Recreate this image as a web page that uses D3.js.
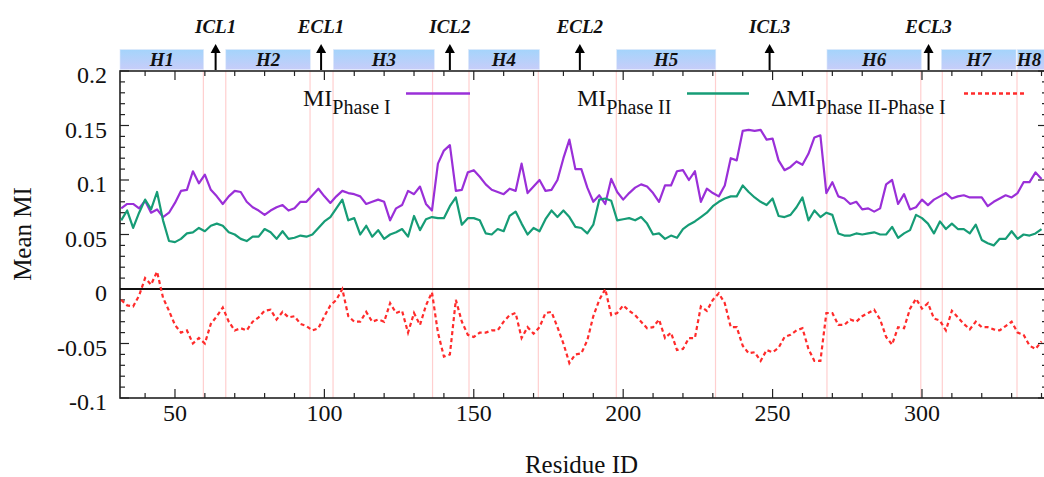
<!DOCTYPE html>
<html>
<head>
<meta charset="utf-8">
<script src="https://cdn.jsdelivr.net/npm/d3@7"></script>
<style>
  html, body { margin: 0; padding: 0; background: #fff; }
  svg { display: block; }
  text { font-family: "Liberation Serif", "Times New Roman", serif; fill: #111; }
</style>
</head>
<body>
<svg id="chart" width="1044" height="477"></svg>
<script>
// ---------------- DATA ----------------
const residues = [32,34,36,38,40,42,44,46,48,50,52,54,56,58,60,62,64,66,68,70,72,74,76,78,80,82,84,86,88,90,92,94,96,98,100,102,104,106,108,110,112,114,116,118,120,122,124,126,128,130,132,134,136,138,140,142,144,146,148,150,152,154,156,158,160,162,164,166,168,170,172,174,176,178,180,182,184,186,188,190,192,194,196,198,200,202,204,206,208,210,212,214,216,218,220,222,224,226,228,230,232,234,236,238,240,242,244,246,248,250,252,254,256,258,260,262,264,266,268,270,272,274,276,278,280,282,284,286,288,290,292,294,296,298,300,302,304,306,308,310,312,314,316,318,320,322,324,326,328,330,332,334,336,338,340];

const miPhaseI = [0.074,0.078,0.078,0.074,0.081,0.070,0.073,0.066,0.070,0.079,0.090,0.091,0.108,0.097,0.105,0.091,0.085,0.078,0.085,0.090,0.089,0.080,0.075,0.072,0.068,0.072,0.075,0.077,0.072,0.074,0.080,0.080,0.086,0.092,0.085,0.079,0.085,0.090,0.088,0.087,0.085,0.078,0.080,0.082,0.080,0.063,0.074,0.077,0.090,0.087,0.094,0.078,0.072,0.115,0.127,0.132,0.090,0.091,0.107,0.109,0.103,0.096,0.091,0.089,0.087,0.092,0.090,0.115,0.088,0.094,0.100,0.090,0.091,0.100,0.120,0.137,0.110,0.110,0.093,0.080,0.086,0.078,0.101,0.089,0.082,0.088,0.093,0.096,0.094,0.088,0.080,0.095,0.095,0.108,0.109,0.100,0.108,0.080,0.092,0.088,0.085,0.095,0.120,0.118,0.145,0.146,0.145,0.146,0.137,0.138,0.118,0.109,0.112,0.117,0.114,0.124,0.139,0.141,0.088,0.098,0.085,0.083,0.078,0.080,0.073,0.074,0.071,0.074,0.096,0.100,0.078,0.087,0.073,0.075,0.082,0.077,0.082,0.085,0.088,0.083,0.085,0.086,0.084,0.084,0.084,0.076,0.080,0.083,0.086,0.084,0.088,0.098,0.098,0.107,0.101];

const miPhaseII = [0.063,0.072,0.056,0.070,0.082,0.073,0.089,0.063,0.044,0.043,0.046,0.051,0.052,0.056,0.053,0.058,0.060,0.058,0.052,0.050,0.046,0.044,0.048,0.048,0.055,0.052,0.046,0.053,0.046,0.047,0.049,0.048,0.050,0.056,0.062,0.066,0.074,0.082,0.063,0.065,0.050,0.058,0.048,0.054,0.046,0.050,0.052,0.055,0.048,0.067,0.054,0.064,0.066,0.065,0.065,0.076,0.084,0.059,0.065,0.065,0.063,0.051,0.050,0.055,0.053,0.067,0.071,0.060,0.050,0.056,0.053,0.064,0.072,0.066,0.072,0.066,0.057,0.056,0.051,0.059,0.082,0.083,0.081,0.063,0.064,0.065,0.063,0.066,0.060,0.050,0.051,0.046,0.049,0.047,0.055,0.059,0.062,0.066,0.070,0.076,0.080,0.083,0.085,0.085,0.095,0.089,0.084,0.080,0.077,0.083,0.067,0.066,0.068,0.075,0.084,0.063,0.072,0.066,0.070,0.068,0.051,0.049,0.049,0.051,0.050,0.051,0.052,0.050,0.050,0.057,0.047,0.051,0.054,0.068,0.065,0.060,0.051,0.062,0.055,0.060,0.055,0.055,0.051,0.059,0.045,0.042,0.040,0.046,0.046,0.053,0.046,0.050,0.049,0.051,0.055];

const deltaMI = [-0.010,-0.015,-0.016,-0.006,0.010,0.004,0.016,-0.008,-0.020,-0.033,-0.040,-0.038,-0.050,-0.045,-0.050,-0.032,-0.025,-0.017,-0.030,-0.038,-0.036,-0.038,-0.030,-0.026,-0.020,-0.019,-0.028,-0.021,-0.026,-0.025,-0.032,-0.034,-0.038,-0.036,-0.025,-0.015,-0.010,0.000,-0.025,-0.030,-0.030,-0.021,-0.030,-0.028,-0.030,-0.013,-0.022,-0.020,-0.040,-0.022,-0.033,-0.015,-0.003,-0.040,-0.062,-0.060,-0.010,-0.030,-0.042,-0.044,-0.040,-0.040,-0.038,-0.038,-0.030,-0.024,-0.022,-0.045,-0.035,-0.041,-0.035,-0.022,-0.021,-0.035,-0.050,-0.068,-0.060,-0.059,-0.047,-0.025,-0.010,0.000,-0.024,-0.022,-0.015,-0.020,-0.024,-0.030,-0.036,-0.035,-0.028,-0.045,-0.040,-0.056,-0.055,-0.045,-0.045,-0.016,-0.020,-0.010,-0.004,-0.013,-0.035,-0.035,-0.052,-0.059,-0.058,-0.066,-0.056,-0.058,-0.054,-0.044,-0.042,-0.038,-0.036,-0.055,-0.066,-0.066,-0.022,-0.022,-0.033,-0.033,-0.028,-0.030,-0.025,-0.022,-0.019,-0.028,-0.044,-0.051,-0.035,-0.036,-0.018,-0.009,-0.018,-0.013,-0.027,-0.029,-0.038,-0.020,-0.026,-0.032,-0.037,-0.030,-0.035,-0.035,-0.037,-0.038,-0.034,-0.030,-0.040,-0.042,-0.052,-0.055,-0.048];

const helixNames = ["H1","H2","H3","H4","H5","H6","H7","H8"];
const helixStart = [31.6, 67.0, 103.0, 148.2, 197.8, 268.2, 306.5, 331.9];
const helixEnd   = [59.6, 95.3, 136.8, 172.0, 231.0, 299.8, 331.5, 345.0];

const boundaryLines = [59.5, 67.0, 95.2, 102.9, 136.2, 148.4, 171.6, 197.7, 230.9, 268.2, 299.6, 306.8, 331.8];

const loopNames = ["ICL1","ECL1","ICL2","ECL2","ICL3","ECL3"];
const loopPos   = [63.6, 98.9, 142.0, 185.5, 249.0, 302.2];

const xTicks = [50, 100, 150, 200, 250, 300];
const yTicks = [-0.1, -0.05, 0, 0.05, 0.1, 0.15, 0.2];
const yTickLabels = ["-0.1", "-0.05", "0", "0.05", "0.1", "0.15", "0.2"];

const seriesNames = ["MI", "MI", "ΔMI"];
const seriesSubs = ["Phase I", "Phase II", "Phase II-Phase I"];

// ---------------- LAYOUT ----------------
const svg = d3.select("#chart");
const L = 120, R = 1043, RB = 1047, T = 71, B = 398;
const x = d3.scaleLinear().domain([31.6, 340.5]).range([L, R]);
const y = d3.scaleLinear().domain([-0.1, 0.2]).range([B, T]);

const defs = svg.append("defs");
const grad = defs.append("linearGradient").attr("id", "hgrad")
  .attr("x1", 0).attr("y1", 0).attr("x2", 0).attr("y2", 1);
grad.append("stop").attr("offset", "0%").attr("stop-color", "#a4d4fb");
grad.append("stop").attr("offset", "100%").attr("stop-color", "#c7cdf9");
defs.append("clipPath").attr("id", "plotclip").append("rect")
  .attr("x", L).attr("y", T).attr("width", RB - L).attr("height", B - T);

// helix bars
const hb = svg.append("g");
helixNames.forEach((n, i) => {
  const x0 = Math.max(L - 1, x(helixStart[i]));
  const x1 = Math.min(1046, x(helixEnd[i]));
  hb.append("rect").attr("x", x0).attr("y", 49.5).attr("width", x1 - x0).attr("height", 20)
    .attr("fill", "url(#hgrad)").attr("stroke", "#dfe9fb").attr("stroke-width", 0.6);
  hb.append("text").attr("x", Math.min((x0 + x1) / 2, 1029)).attr("y", 65.5)
    .attr("text-anchor", "middle").attr("font-size", 19).attr("font-weight", "bold")
    .attr("font-style", "italic").text(n);
});

// boundary pink lines
svg.append("g").selectAll("line").data(boundaryLines).join("line")
  .attr("x1", d => x(d)).attr("x2", d => x(d)).attr("y1", T).attr("y2", B)
  .attr("stroke", "#ffcfcf").attr("stroke-width", 1.2);

// loop arrows
const lg = svg.append("g");
loopNames.forEach((n, i) => {
  const px = x(loopPos[i]);
  lg.append("line").attr("x1", px).attr("x2", px).attr("y1", 70).attr("y2", 51)
    .attr("stroke", "#000").attr("stroke-width", 2);
  lg.append("path").attr("d", `M${px - 5},${53} L${px},${44} L${px + 5},${53} Z`).attr("fill", "#000");
  lg.append("text").attr("x", px).attr("y", 33).attr("text-anchor", "middle")
    .attr("font-size", 19).attr("font-weight", "bold").attr("font-style", "italic").text(n);
});

// axes ticks
const ax = svg.append("g").attr("stroke", "#222").attr("stroke-width", 1.2);
const minorX = d3.range(40, 341, 10);
minorX.forEach(v => {
  const major = v % 50 === 0;
  const len = major ? 9 : 5;
  ax.append("line").attr("x1", x(v)).attr("x2", x(v)).attr("y1", B).attr("y2", B - len);
  ax.append("line").attr("x1", x(v)).attr("x2", x(v)).attr("y1", T).attr("y2", T + len);
});
const minorY = d3.range(-100, 201, 10).map(v => v / 1000);
minorY.forEach(v => {
  const major = Math.round(v * 1000) % 50 === 0;
  const len = major ? 9 : 5;
  ax.append("line").attr("x1", L).attr("x2", L + len).attr("y1", y(v)).attr("y2", y(v));
  ax.append("line").attr("x1", RB).attr("x2", RB - len).attr("y1", y(v)).attr("y2", y(v));
});

// frame
svg.append("rect").attr("x", L).attr("y", T).attr("width", RB - L).attr("height", B - T)
  .attr("fill", "none").attr("stroke", "#222").attr("stroke-width", 1.6);

// zero line
svg.append("line").attr("x1", L).attr("x2", RB).attr("y1", y(0)).attr("y2", y(0))
  .attr("stroke", "#111").attr("stroke-width", 2);

// tick labels
svg.append("g").selectAll("text").data(xTicks).join("text")
  .attr("x", d => x(d)).attr("y", 421).attr("text-anchor", "middle")
  .attr("font-size", 24).text(d => d);
svg.append("g").selectAll("text").data(yTicks).join("text")
  .attr("x", 107).attr("y", d => y(d) + 12).attr("text-anchor", "end")
  .attr("font-size", 24).text((d, i) => yTickLabels[i]);

// axis titles
svg.append("text").attr("x", (L + R) / 2).attr("y", 473).attr("text-anchor", "middle")
  .attr("font-size", 25).text("Residue ID");
svg.append("text").attr("transform", "translate(31,234) rotate(-90)").attr("text-anchor", "middle")
  .attr("font-size", 25).text("Mean MI");

// series lines
const line = (vals) => d3.line().x((d, i) => x(residues[i])).y(d => y(d))(vals);
const pg = svg.append("g").attr("clip-path", "url(#plotclip)");
pg.append("path").attr("d", line(miPhaseI)).attr("fill", "none")
  .attr("stroke", "#9a2fd8").attr("stroke-width", 2.2).attr("stroke-linejoin", "round");
pg.append("path").attr("d", line(miPhaseII)).attr("fill", "none")
  .attr("stroke", "#169c76").attr("stroke-width", 2.2).attr("stroke-linejoin", "round");
pg.append("path").attr("d", line(deltaMI)).attr("fill", "none")
  .attr("stroke", "#ff2b2b").attr("stroke-width", 2.2).attr("stroke-dasharray", "4,3");

// legend
const legX = [303, 577, 771];
const legLine = [[406, 470], [687, 749], [964, 1027]];
const legColors = ["#9a2fd8", "#169c76", "#ff2b2b"];
seriesNames.forEach((n, i) => {
  const t = svg.append("text").attr("x", legX[i]).attr("y", 106).attr("font-size", 24);
  t.append("tspan").text(n);
  t.append("tspan").attr("dy", 8).attr("font-size", 20).text(seriesSubs[i]);
  svg.append("line").attr("x1", legLine[i][0]).attr("x2", legLine[i][1]).attr("y1", 93.5).attr("y2", 93.5)
    .attr("stroke", legColors[i]).attr("stroke-width", 2.4)
    .attr("stroke-dasharray", i === 2 ? "4,3" : null);
});
</script>
</body>
</html>
